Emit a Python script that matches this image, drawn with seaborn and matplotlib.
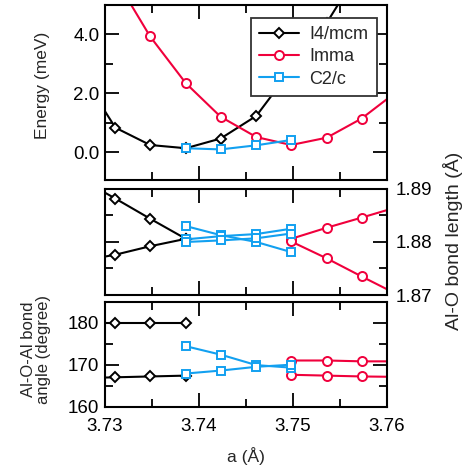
import numpy as np
import pandas as pd
import matplotlib
matplotlib.use("Agg")
import matplotlib.pyplot as plt
import seaborn as sns
from matplotlib.lines import Line2D
from matplotlib.ticker import MultipleLocator, FormatStrFormatter

sns.set_theme(style="ticks")
plt.rcParams["font.family"] = ["Liberation Sans", "DejaVu Sans"]

# lattice constants a (Å) sampled in the calculations
a_grid = [3.7273, 3.7311, 3.7348, 3.7386, 3.7423, 3.7461, 3.7498, 3.7536, 3.7573, 3.7611]

# relative energy (meV)
i4_a_energy = a_grid[0:9]
i4_energy = [2.75, 0.83, 0.24, 0.13, 0.46, 1.23, 2.80, 4.40, 6.30]
imma_a_energy = a_grid[1:10]
imma_energy = [5.90, 3.93, 2.34, 1.20, 0.51, 0.24, 0.49, 1.14, 2.07]
c2c_a = a_grid[3:7]
c2c_energy = [0.13, 0.09, 0.23, 0.41]

# Al-O bond lengths (Å)
i4_a_struct = a_grid[0:4]
i4_bond_1 = [1.8920, 1.8882, 1.8844, 1.8806]
i4_bond_2 = [1.8764, 1.8776, 1.8792, 1.8806]
c2c_bond_1 = [1.8830, 1.8813, 1.8800, 1.8781]
c2c_bond_2 = [1.8805, 1.8811, 1.8815, 1.8825]
c2c_bond_3 = [1.8800, 1.8803, 1.8807, 1.8816]
imma_a_struct = a_grid[6:10]
imma_bond_1 = [1.8806, 1.8827, 1.8846, 1.8866]
imma_bond_2 = [1.8801, 1.8769, 1.8735, 1.8701]

# Al-O-Al bond angles (degree)
i4_angle_1 = [180.0, 180.0, 180.0, 180.0]
i4_angle_2 = [166.8, 167.0, 167.2, 167.4]
c2c_angle_1 = [174.4, 172.4, 169.9, 169.3]
c2c_angle_2 = [167.9, 168.6, 169.5, 170.0]
imma_angle_1 = [171.0, 171.0, 170.8, 170.8]
imma_angle_2 = [167.6, 167.4, 167.2, 167.1]

phases = ["I4/mcm", "Imma", "C2/c"]
colors = {"I4/mcm": "#000000", "Imma": "#f0003c", "C2/c": "#12a0f0"}
markers = {"I4/mcm": "D", "Imma": "o", "C2/c": "s"}
msizes = {"I4/mcm": 5.0, "Imma": 6.5, "C2/c": 5.5}


def records(panel, phase, a_vals, branches):
    rows = []
    for b, vals in enumerate(branches):
        for a, v in zip(a_vals, vals):
            rows.append({"panel": panel, "phase": phase, "branch": b, "a": a, "value": v})
    return rows


rows = []
rows += records("energy", "I4/mcm", i4_a_energy, [i4_energy])
rows += records("energy", "Imma", imma_a_energy, [imma_energy])
rows += records("energy", "C2/c", c2c_a, [c2c_energy])
rows += records("bond", "I4/mcm", i4_a_struct, [i4_bond_1, i4_bond_2])
rows += records("bond", "Imma", imma_a_struct, [imma_bond_1, imma_bond_2])
rows += records("bond", "C2/c", c2c_a, [c2c_bond_1, c2c_bond_2, c2c_bond_3])
rows += records("angle", "I4/mcm", i4_a_struct, [i4_angle_1, i4_angle_2])
rows += records("angle", "Imma", imma_a_struct, [imma_angle_1, imma_angle_2])
rows += records("angle", "C2/c", c2c_a, [c2c_angle_1, c2c_angle_2])
df = pd.DataFrame(rows)

W, H = 465, 468
fig = plt.figure(figsize=(W / 100, H / 100), dpi=100)
left, width = 105 / W, 282 / W
ax_e = fig.add_axes([left, 1 - 180 / H, width, 175 / H])
ax_b = fig.add_axes([left, 1 - 295 / H, width, 106 / H])
ax_g = fig.add_axes([left, 1 - 406.7 / H, width, 105 / H])

lw = 1.5
for ax, panel in [(ax_e, "energy"), (ax_b, "bond"), (ax_g, "angle")]:
    for ph in phases:
        sub = df[(df.panel == panel) & (df.phase == ph)]
        sns.lineplot(data=sub, x="a", y="value", units="branch", estimator=None,
                     sort=True, color=colors[ph], marker=markers[ph],
                     markersize=msizes[ph], mfc="white", mec=colors[ph], mew=1.4,
                     lw=lw, legend=False, ax=ax)
    ax.set_xlim(3.73, 3.76)
    ax.xaxis.set_major_locator(MultipleLocator(0.01))
    ax.xaxis.set_minor_locator(MultipleLocator(0.005))
    ax.tick_params(which="both", direction="in", top=True, right=True,
                   left=True, bottom=True, width=1.3, labelsize=13.5, colors="black")
    ax.tick_params(which="major", length=10)
    ax.tick_params(which="minor", length=5.5)
    ax.set_xlabel("")
    ax.set_ylabel("")
    for s in ax.spines.values():
        s.set_linewidth(1.5)
        s.set_color("black")
    if ax is not ax_g:
        ax.tick_params(labelbottom=False)

# energy panel
ax_e.set_ylim(-0.95, 5.0)
ax_e.yaxis.set_major_locator(MultipleLocator(2))
ax_e.yaxis.set_minor_locator(MultipleLocator(1))
ax_e.yaxis.set_major_formatter(FormatStrFormatter("%.1f"))
ax_e.tick_params(axis="y", pad=4)

# bond length panel, labelled on the right
ax_b.set_ylim(1.87, 1.89)
ax_b.yaxis.set_major_locator(MultipleLocator(0.01))
ax_b.yaxis.set_minor_locator(MultipleLocator(0.005))
ax_b.yaxis.set_major_formatter(FormatStrFormatter("%.2f"))
ax_b.tick_params(axis="y", labelleft=False, labelright=True, pad=6)

# bond angle panel
ax_g.set_ylim(160, 185)
ax_g.yaxis.set_major_locator(MultipleLocator(10))
ax_g.yaxis.set_minor_locator(MultipleLocator(5))
ax_g.tick_params(axis="y", pad=4)
ax_g.tick_params(axis="x", pad=8)

handles = [Line2D([], [], color=colors[p], marker=markers[p], markersize=msizes[p],
                  mfc="white", mec=colors[p], mew=1.4, lw=lw) for p in phases]
leg = ax_e.legend(handles, phases, loc="upper right",
                  bbox_to_anchor=((376.7 - 105) / 282, (180 - 18.3) / 175),
                  borderaxespad=0, fancybox=False, framealpha=1, edgecolor="#333333",
                  fontsize=13, handlelength=2.2, handletextpad=0.6,
                  labelspacing=0.28, borderpad=0.45)
leg.get_frame().set_linewidth(1.3)

fig.text(42 / W, 1 - 85 / H, "Energy (meV)", rotation=90, ha="center", va="center", fontsize=12.5)
fig.text(36 / W, 1 - 349 / H, "Al-O-Al bond\nangle (degree)", rotation=90,
         ha="center", va="center", fontsize=12, linespacing=1.0)
fig.text(453 / W, 1 - 241 / H, "Al-O bond length (Å)", rotation=90,
         ha="center", va="center", fontsize=14)
fig.text(246 / W, 1 - 456 / H, "a (Å)", ha="center", va="center", fontsize=12.5)

fig.savefig("out.png", dpi=100)
